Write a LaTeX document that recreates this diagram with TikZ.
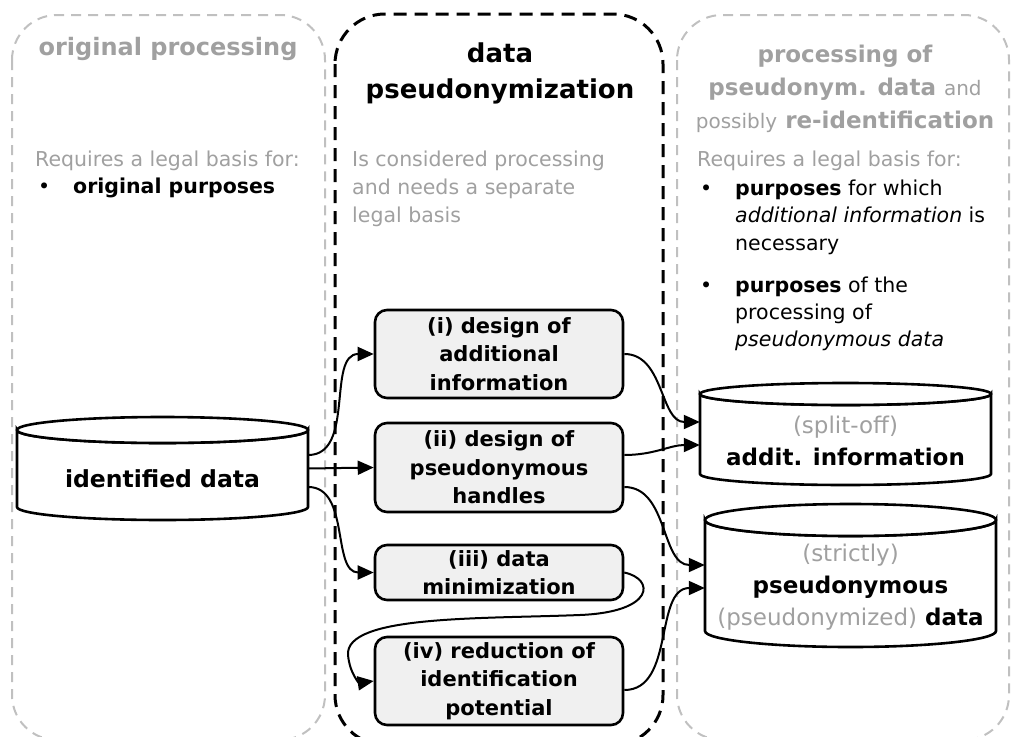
\documentclass[tikz,border=0pt]{standalone}
\usepackage{fontspec}
\setmainfont{DejaVu Sans}
\usetikzlibrary{arrows.meta}
\definecolor{txtgray}{RGB}{160,160,160}
\definecolor{linegray}{RGB}{192,192,192}
\definecolor{boxfill}{RGB}{240,240,240}
\newcommand\fs[2]{\fontsize{#1}{#2}\selectfont}
% cylinder outline: x-left, x-right, y of top ellipse, y of bottom ellipse, y radius
\newcommand\cylshape[5]{%
  \pgfmathsetmacro\cylrx{(#2-#1)/2}%
  \pgfmathsetmacro\cylcx{(#1+#2)/2}%
  \draw[cylline] (#1,#3) -- (#1,#4)
    arc[start angle=180,end angle=0,x radius=\cylrx,y radius=#5]
    -- (#2,#3)
    arc[start angle=0,end angle=180,x radius=\cylrx,y radius=#5] -- cycle;
  \draw[cylline] (\cylcx,#3) ellipse[x radius=\cylrx,y radius=#5];
}
\begin{document}
\begin{tikzpicture}[x=1pt,y=-1pt,
  zone/.style={rounded corners=45pt, dash pattern=on 10pt off 7pt, line width=2pt, draw=linegray},
  corezone/.style={rounded corners=50pt, dash pattern=on 13pt off 8pt, line width=3pt, draw=black},
  stepbox/.style={draw, line width=2.6pt, fill=boxfill, rounded corners=12pt,
    minimum width=248pt, inner xsep=2pt, inner ysep=0pt, align=center,
    font=\fs{21}{28.5}\bfseries},
  cylbody/.style={minimum width=291pt, inner sep=0pt},
  cylline/.style={line width=2.6pt, fill=white},
  cyltext/.style={anchor=base, align=center, inner sep=0pt, font=\fs{23}{32}\bfseries},
  flow/.style={line width=2pt, -{Triangle[length=16pt,width=14pt]}},
  ztitle/.style={anchor=base, align=center, inner sep=0pt, text=txtgray, font=\fs{23}{33}\bfseries},
  bodytext/.style={anchor=base west, align=left, inner sep=0pt, font=\fs{20.5}{28}},
]
\useasboundingbox (0,0) rectangle (1014,736);
\clip (0,0) rectangle (1014,736);

% three processing zones
\draw[zone] (12,15) rectangle (325,740);
\draw[zone] (677,15) rectangle (1009,740);
\draw[corezone] (335,14) rectangle (663,745);

% zone headings (multi-line nodes are placed by the baseline of their last line)
\node[ztitle, font=\fs{24}{33}\bfseries] (t1) at (168,55) {original processing};
\node[ztitle, text=black, font=\fs{26}{36}\bfseries] (t2) at (500,98) {data\\pseudonymization};
\node[ztitle] (t3) at (845,128) {processing of\\pseudonym. data {\mdseries\fs{20}{33}and}\\{\mdseries\fs{20}{33}possibly} re-identification};

% left zone text
\node[bodytext, text=txtgray] (req1) at (35,166) {Requires a legal basis for:};
\node[bodytext] (bl1) at (38,193) {•};
\node[bodytext, font=\fs{20.5}{28}\bfseries] (p1) at (73,193) {original purposes};

% middle zone text
\node[bodytext, text=txtgray] (req2) at (352,222) {Is considered processing\\and needs a separate\\legal basis};

% right zone text
\node[bodytext, text=txtgray] (req3) at (697,166) {Requires a legal basis for:};
\node[bodytext] (bl2) at (700,195) {•};
\node[bodytext, font=\fs{20.5}{27.5}] (p2) at (735,250) {\textbf{purposes} for which\\\textit{additional information} is\\necessary};
\node[bodytext] (bl3) at (700,292) {•};
\node[bodytext, font=\fs{20.5}{27}] (p3) at (735,346) {\textbf{purposes} of the\\processing of\\\textit{pseudonymous data}};

% data stores
\cylshape{17}{308}{430}{507}{13}
\node[cylbody, minimum height=77pt] (idd) at (162.5,468.5) {};
\node[cyltext, font=\fs{23.5}{32}\bfseries] (iddl) at (162.5,487) {identified data};

\cylshape{700}{991}{394}{474}{11}
\node[cylbody, minimum height=80pt] (ai) at (845.5,434) {};
\node[cyltext] (ail) at (845.5,465) {{\mdseries\color{txtgray}(split-off)}\\addit. information};

\cylshape{705}{996}{520}{631}{16}
\node[cylbody, minimum height=111pt] (pd) at (850.5,575.5) {};
\node[cyltext] (pdl) at (850.5,625) {{\mdseries\color{txtgray}(strictly)}\\pseudonymous\\{\mdseries\color{txtgray}(pseudonymized)} data};

% pseudonymization steps
\node[stepbox, minimum height=88pt] (b1) at (499,354) {(i) design of\\additional\\information};
\node[stepbox, minimum height=89pt] (b2) at (499,467.5) {(ii) design of\\pseudonymous\\handles};
\node[stepbox, minimum height=55pt] (b3) at (499,572.5) {(iii) data\\minimization};
\node[stepbox, minimum height=88pt] (b4) at (499,681) {(iv) reduction of\\identification\\potential};

% flows
\draw[flow] ([yshift=13.5pt]idd.east) to[out=0,in=180] (b1.west);
\draw[flow] (idd.east) -- (b2.west);
\draw[flow] ([yshift=-18.5pt]idd.east) to[out=0,in=180] (b3.west);
\draw[flow] (b1.east) to[out=0,in=180] ([yshift=12pt]ai.west);
\draw[flow] ([yshift=12.5pt]b2.east) to[out=0,in=180] ([yshift=-11pt]ai.west);
\draw[flow] ([yshift=-19.5pt]b2.east) to[out=0,in=180] ([yshift=10.5pt]pd.west);
\draw[flow] ([yshift=-9pt]b4.east) to[out=0,in=180] ([yshift=-12.5pt]pd.west);
\draw[flow] (b3.east) .. controls (655,579) and (655,612) .. (580,615)
  .. controls (480,619) and (345,615) .. (348,655)
  .. controls (350,675) and (360,683) .. (b4.west);
\end{tikzpicture}
\end{document}
